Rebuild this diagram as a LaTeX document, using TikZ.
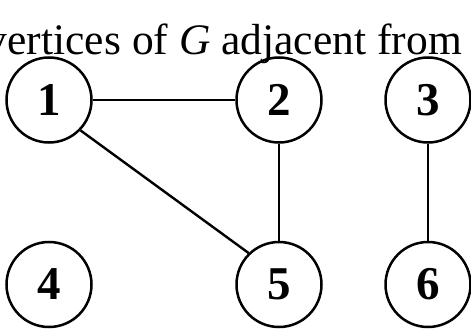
\documentclass[tikz,border=0pt]{standalone}
\usepackage{fontspec}
\setmainfont{Liberation Serif}
\begin{document}
\begin{tikzpicture}[x=1pt,y=-1pt,
  vertex/.style={circle,draw,line width=2.5pt,minimum size=85pt,inner sep=0pt,
    font=\fontsize{47}{47}\selectfont\bfseries},
  edge/.style={line width=2.4pt}]
\useasboundingbox (0,0) rectangle (471,331);
\begin{scope}
\clip (0,0) rectangle (471,331);
\node[anchor=base east,inner sep=0pt,font=\fontsize{43.5}{43.5}\selectfont] (title) at (462,55) {vertices of \textit{G} adjacent from};
\end{scope}
\node[vertex] (n1) at (49,100) {1};
\node[vertex] (n2) at (279,100) {2};
\node[vertex] (n3) at (428,100) {3};
\node[vertex] (n4) at (49,284.5) {4};
\node[vertex] (n5) at (279,284.5) {5};
\node[vertex] (n6) at (428,284.5) {6};
\draw[edge] (n1) -- (n2);
\draw[edge] (n1.-44) -- (n5.134);
\draw[edge] (n2) -- (n5);
\draw[edge] (n3) -- (n6);
\end{tikzpicture}
\end{document}
